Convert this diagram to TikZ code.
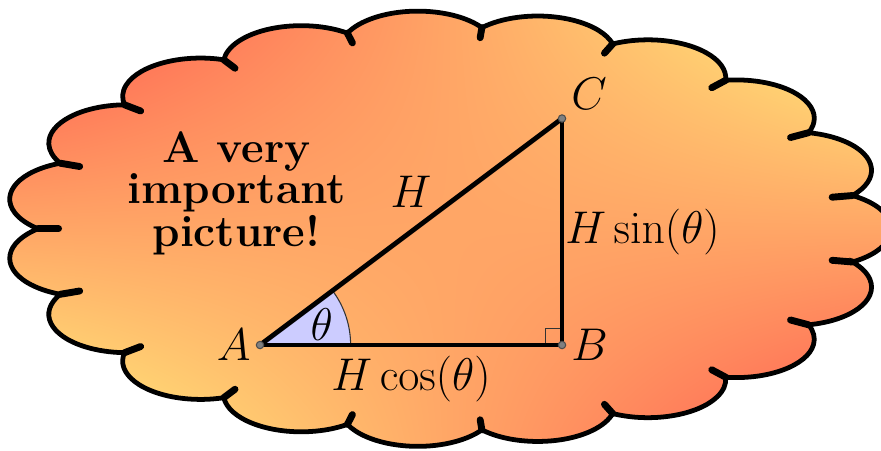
\documentclass[tikz,border=0pt]{standalone}
\usetikzlibrary{shadings, calc, positioning}

\colorlet{cloudred}{red!70}
\colorlet{cloudyellow}{yellow!50}

\tikzset{
    lbl/.style={font=\LARGE},
    side/.style={line width=1.8pt},
    vertexdot/.style={fill=gray, draw=black!70, line width=0.4pt},
    cloudfill/.style={upper left=cloudred, lower right=cloudred,
                      upper right=cloudyellow, lower left=cloudyellow},
    notchmark/.style={line width=2.6pt, line cap=round},
}

\begin{document}
\begin{tikzpicture}
    % Define the size of the triangle
    \def\base{4}
    \def\height{3}
    \def\anglerad{1.2} % Radius of the angle mark
    \def\marksize{0.22} % Size of the right angle mark

    % Define the cloud: 19 puffs on a stretched circle
    \def\puffs{19}
    \def\puffstep{18.9474}
    \def\puffrad{0.19005}

    \useasboundingbox (-3.444,-1.391) rectangle (8.225,4.570);

    % Draw the shaded cloud behind everything
    \begin{scope}[shift={(2.49,1.54)}, xscale=5.43, yscale=2.673]
        \shadedraw[cloudfill, line width=1.8pt] (-\puffstep/2:1)
            \foreach \k in {1,...,\puffs} {
                arc[start angle={(\k-1)*\puffstep-60}, end angle={(\k-1)*\puffstep+60}, radius=\puffrad]
            } -- cycle;
        % Small marks where the puffs meet
        \foreach \k in {1,...,\puffs}
            \draw[notchmark] ({(\k-0.5)*\puffstep}:1) -- ({(\k-0.5)*\puffstep}:0.95);
    \end{scope}

    % Define the corners of the triangle
    \coordinate (A) at (0,0);
    \coordinate (B) at (\base,0);
    \coordinate (C) at (\base,\height);

    % Fill the angle at A
    \filldraw[fill=blue!20, draw=black!80] (A) -- (\anglerad,0)
        arc[start angle=0, end angle={atan(\height/\base)}, radius=\anglerad] -- cycle;
    \node[lbl] (theta) at (18.4:0.86) {$\theta$};

    % Draw the right angle mark at B
    \draw[black!80] ($(B)+(-\marksize,0)$) -- ++(0,\marksize) -- ++(\marksize,0);

    % Draw the sides with their labels
    \draw[side] (A) -- (B) node[lbl, midway, below] (adj) {$H\cos(\theta)$};
    \draw[side] (B) -- (C) node[lbl, midway, right, xshift=-3pt] (opp) {$H\sin(\theta)$};
    \draw[side] (A) -- (C) node[lbl, midway, above=5pt] (hyp) {$H$};

    % Draw the dots at the corners
    \foreach \p in {A,B,C}
        \filldraw[vertexdot] (\p) circle (1.4pt);

    % Label the corners
    \node[lbl, left] (labA) at (A) {$A$};
    \node[lbl, right] (labB) at (B) {$B$};
    \node[lbl, above right] (labC) at (C) {$C$};

    % Title text
    \node[font=\fontsize{16.6}{13}\selectfont\bfseries, align=center] (title) at (-0.31,2.01)
        {A very\\important\\picture!};
\end{tikzpicture}
\end{document}
